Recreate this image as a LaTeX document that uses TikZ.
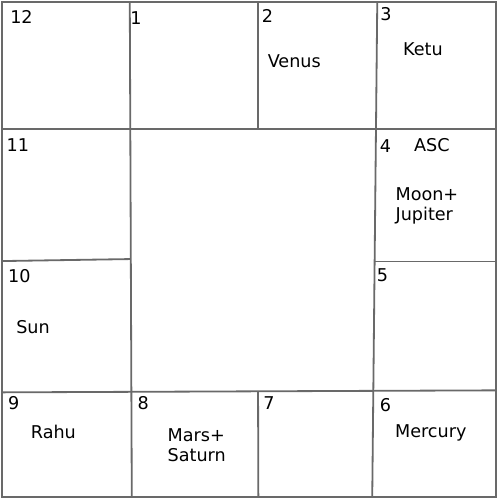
\documentclass[tikz,border=0pt]{standalone}
\usepackage{fontspec}
\setmainfont{DejaVu Sans}
\usetikzlibrary{positioning}
\definecolor{gridgray}{RGB}{105,105,105}

\begin{document}
\begin{tikzpicture}[
  x=1pt, y=-1pt,
  ln/.style={draw=gridgray, line width=1.8pt},
  num/.style={font=\fontsize{17.5}{20}\selectfont, inner sep=0pt,
              anchor=base west},
  pl/.style={font=\fontsize{17.5}{20.5}\selectfont, inner sep=0pt,
             anchor=base west, align=left}
]
  \useasboundingbox (0,0) rectangle (497,497);

  % grid of the chart
  \draw[ln] (2,2) rectangle (493,494);
  \draw[ln] (129,2) -- (131,494);
  \draw[ln] (375,2) -- (370,494);
  \draw[ln] (256.5,2) -- (256.5,128);
  \draw[ln] (256.5,389) -- (256.8,494);
  \draw[ln] (2,128) -- (493,128);
  \draw[ln] (2,259.5) -- (130,257.5);
  \draw[ln] (372,260) -- (493,260);
  \draw[ln] (2,390) -- (493,388);

  % house numbers
  \node[num] (h12) at (10,23.5) {12};
  \node[num] (h1)  at (129.5,24) {1};
  \node[num] (h2)  at (260,22.5) {2};
  \node[num] (h3)  at (378,20) {3};
  \node[num] (h11) at (6.5,151) {11};
  \node[num] (h4)  at (377.5,152) {4};
  \node[num] (h10) at (8,280.5) {10};
  \node[num] (h5)  at (374.5,280) {5};
  \node[num] (h9)  at (8,407) {9};
  \node[num] (h8)  at (136.5,407.5) {8};
  \node[num] (h7)  at (261.5,407.5) {7};
  \node[num] (h6)  at (377.5,409) {6};

  % planets (two-line nodes sit on their last baseline)
  \node[pl] (venus) at (266,67) {Venus};
  \node[pl] (ketu)  at (400.5,55) {Ketu};
  \node[pl] (asc)   at (411.5,150.5) {ASC};
  \node[pl] (moon)  at (393,219.5) {Moon+\\Jupiter};
  \node[pl] (sun)   at (16,331.5) {Sun};
  \node[pl] (rahu)  at (30.5,436) {Rahu};
  \node[pl] (mars)  at (166.5,459) {Mars+\\Saturn};
  \node[pl] (merc)  at (392.5,435) {Mercury};

\end{tikzpicture}
\end{document}
